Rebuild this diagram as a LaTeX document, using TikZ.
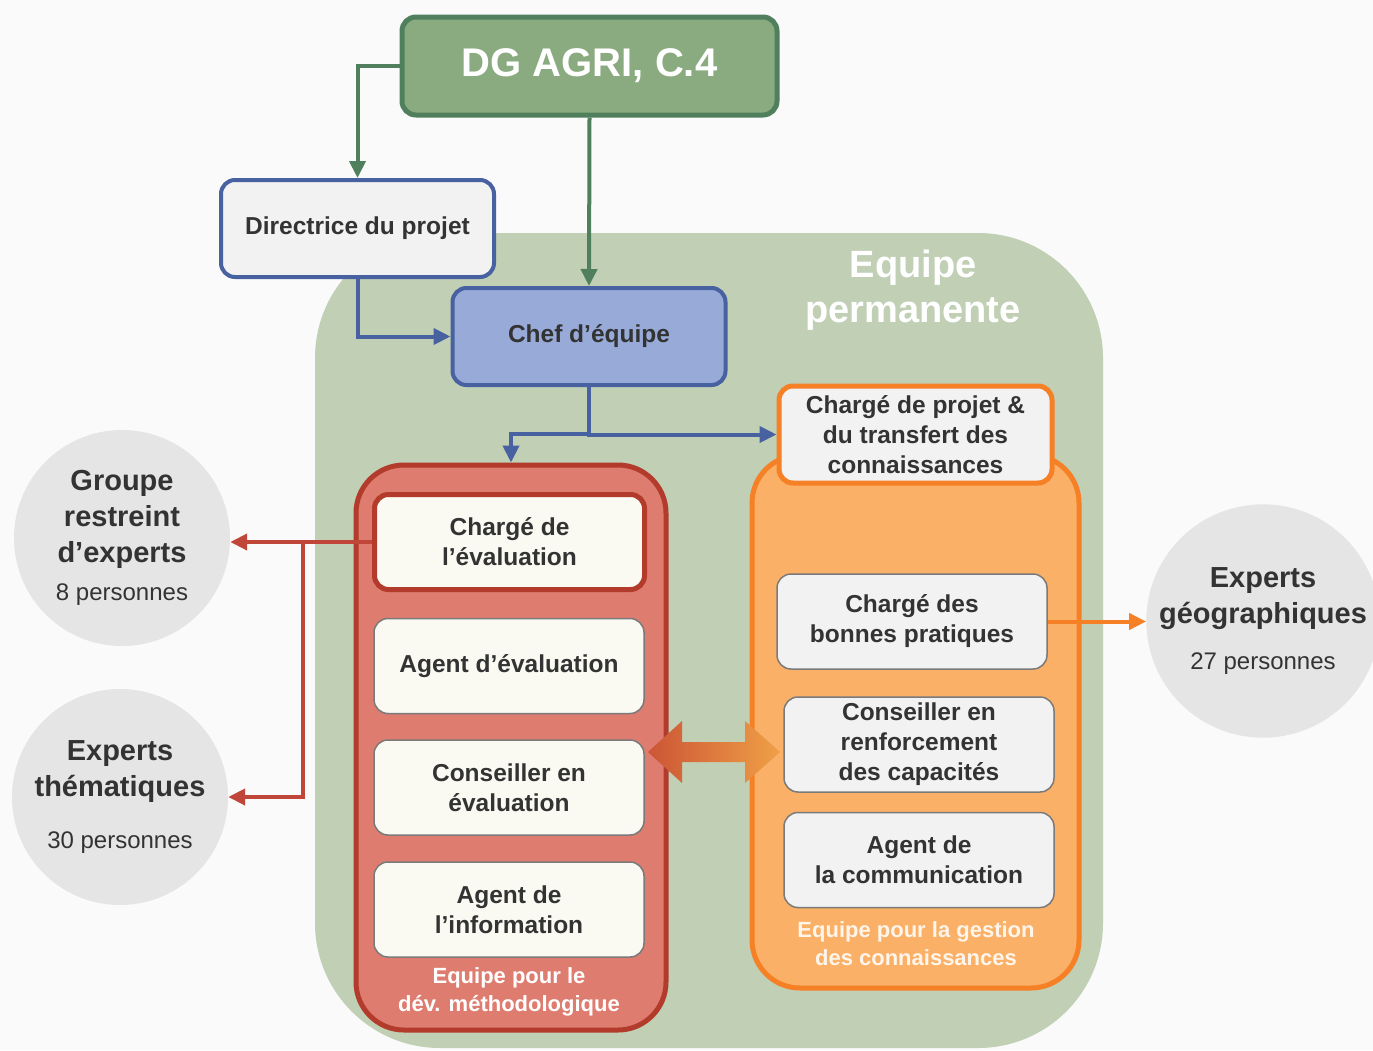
\documentclass[tikz,border=0pt]{standalone}
\usepackage{fontspec}
\setmainfont{Liberation Sans}
\usetikzlibrary{arrows.meta}

\definecolor{pagebg}{HTML}{FAFAFA}
\definecolor{sage}{HTML}{C1CFB5}
\definecolor{dgfill}{HTML}{8AAB80}
\definecolor{dgline}{HTML}{4F7F5C}
\definecolor{blueline}{HTML}{4861A0}
\definecolor{chefblue}{HTML}{97AAD8}
\definecolor{palegray}{HTML}{F2F2F2}
\definecolor{redfill}{HTML}{DE7C6F}
\definecolor{redline}{HTML}{B23B2B}
\definecolor{redarrow}{HTML}{C0463A}
\definecolor{cream}{HTML}{FAFAF3}
\definecolor{orangefill}{HTML}{FAB066}
\definecolor{orangeline}{HTML}{F58025}
\definecolor{boxline}{HTML}{7A7A7A}
\definecolor{circlegray}{HTML}{E5E5E5}
\definecolor{darktext}{HTML}{333333}
\definecolor{swapleft}{HTML}{CC5536}
\definecolor{swapright}{HTML}{EFA046}

\newcommand{\orgboxfont}{\fontsize{24.5}{30}\selectfont\bfseries}
\newcommand{\orgtitlefont}{\fontsize{29}{36}\selectfont\bfseries}
\newcommand{\orgsubfont}{\fontsize{24}{30}\selectfont\mdseries}
\newcommand{\orgteamfont}{\fontsize{22}{28}\selectfont\bfseries}

\begin{document}
\begin{tikzpicture}[x=1pt, y=-1pt,
  org box/.style={draw, rounded corners=14pt, align=center, text=darktext, font=\orgboxfont, inner sep=2pt},
  blue box/.style={org box, draw=blueline, line width=4pt, minimum width=273pt, minimum height=97pt},
  staff box/.style={org box, draw=boxline, line width=1.5pt, fill=cream, minimum width=270pt, minimum height=95pt},
  team box/.style={draw, rounded corners=48pt, line width=5pt},
  expert circle/.style={circle, fill=circlegray, minimum size=216pt, align=center, text=darktext, inner sep=0pt, font=\orgtitlefont},
  team label/.style={align=center, text=white, font=\orgteamfont},
  green link/.style={draw=dgline, line width=4pt, -{Triangle[length=17pt,width=16pt]}},
  blue link/.style={draw=blueline, line width=4pt, -{Triangle[length=17pt,width=16pt]}},
  red link/.style={draw=redarrow, line width=4pt, -{Triangle[length=17pt,width=16pt]}},
  orange link/.style={draw=orangeline, line width=4pt, -{Triangle[length=17pt,width=16pt]}}]

\useasboundingbox (0,0) rectangle (1373,1050);
\fill[pagebg] (0,0) rectangle (1373,1050);

% permanent team area
\fill[sage, rounded corners=125pt] (315,233) rectangle (1103,1048);
\node[font=\fontsize{38}{45}\selectfont\bfseries, text=white, align=center] (perm) at (913,290) {Equipe\\permanente};

% outside experts
\node[expert circle] (groupe) at (122,538) {Groupe\\restreint\\d’experts\\[2pt]\orgsubfont 8 personnes};
\node[expert circle] (thema) at (120,797) {Experts\\thématiques\\[16pt]\orgsubfont 30 personnes};
\node[expert circle] (geo) at (1263,621) {Experts\\géographiques\\[10pt]\orgsubfont 27 personnes};

% management
\node[org box, draw=dgline, fill=dgfill, line width=5pt, minimum width=375pt, minimum height=98pt,
      text=white, font=\fontsize{40}{48}\selectfont\bfseries] (dg) at (589.5,66) {DG AGRI, C.4};
\node[blue box, fill=palegray] (dir) at (357.5,228.5) {Directrice du projet};
\node[blue box, fill=chefblue] (chef) at (589,336.5) {Chef d’équipe};

% methodology team
\node[team box, draw=redline, fill=redfill, minimum width=310pt, minimum height=565pt] (meth) at (511,747.5) {};
\node[team label] (methlabel) at (509,992) {Equipe pour le\\dév. méthodologique};
\node[staff box, draw=redline, line width=5pt] (eval) at (509.5,542) {Chargé de\\l’évaluation};
\node[staff box] (agent) at (509,666) {Agent d’évaluation};
\node[staff box] (conseil) at (509,787.5) {Conseiller en\\évaluation};
\node[staff box] (info) at (509,909.5) {Agent de\\l’information};

% knowledge team
\node[team box, draw=orangeline, fill=orangefill, minimum width=327pt, minimum height=533pt] (gestion) at (915.5,721.5) {};
\node[team label, text=white!92!orange] (gestlabel) at (916,944) {Equipe pour la gestion\\des connaissances};
\node[staff box, fill=palegray, draw=orangeline, line width=5pt, minimum width=273pt, minimum height=97pt] (transfert) at (915.5,434.5) {Chargé de projet \&\\du transfert des\\connaissances};
\node[staff box, fill=palegray] (pratiques) at (912,621.5) {Chargé des\\bonnes pratiques};
\node[staff box, fill=palegray] (renfo) at (919,744.5) {Conseiller en\\renforcement\\des capacités};
\node[staff box, fill=palegray] (comm) at (919,860) {Agent de\\la communication};

% links
\draw[green link] (dg.west) -| (dir.north);
\draw[green link] (dg.south) -- (chef.north);
\draw[blue link] (dir.south) |- (chef.west);
\draw[blue link] (chef.south) |- (transfert.west);
\draw[blue link] (chef.south) -- ++(0,47) -| (meth.north);
\coordinate (redfork) at (303,542);
\draw[red link] (eval.west) -- (eval.west -| groupe.east);
\draw[red link] (redfork) |- (thema.east);
\draw[orange link] (pratiques.east) -- (pratiques.east -| geo.west);

% exchange between the two teams
\shade[left color=swapleft, right color=swapright]
  (648,752) -- (682,721) -- (682,742) -- (745,742) -- (745,721) -- (780,752)
  -- (745,783) -- (745,762) -- (682,762) -- (682,783) -- cycle;
\end{tikzpicture}
\end{document}
